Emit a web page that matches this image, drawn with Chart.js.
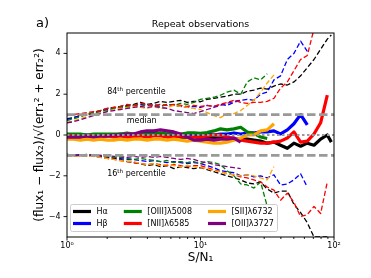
<!DOCTYPE html>
<html>
<head>
<meta charset="utf-8">
<script src="https://cdn.jsdelivr.net/npm/chart.js@4.4.1/dist/chart.umd.min.js"></script>
<style>
  html, body { margin: 0; padding: 0; background: #fff; }
  #wrap { width: 371px; height: 278px; }
</style>
</head>
<body>
<div id="wrap"><canvas id="repeatChart" width="371" height="278"></canvas></div>
<script>
// S/N bins (log spaced, 0.05 dex)
const snBins = [1.00, 1.12, 1.26, 1.41, 1.58, 1.78, 2.00, 2.24, 2.51, 2.82,
  3.16, 3.55, 3.98, 4.47, 5.01, 5.62, 6.31, 7.08, 7.94, 8.91,
  10.0, 11.2, 12.6, 14.1, 15.8, 17.8, 20.0, 22.4, 25.1, 28.2,
  31.6, 35.5, 39.8, 44.7, 50.1, 56.2, 63.1, 70.8, 79.4, 89.1, 95.5];

// Halpha
const haP84 = [0.8, 0.85, 0.95, 1.05, 1.1, 1.2, 1.3, 1.35, 1.4, 1.45, 1.5, 1.6, 1.5, 1.55, 1.65, 1.6, 1.65, 1.7, 1.6, 1.65,
  1.63, 1.75, 1.8, 1.85, 1.9, 2.0, 2.0, 2.15, 2.2, 2.3, 2.25, 2.4, 2.5, 2.45, 2.6, 2.9, 3.3, 3.7, 4.2, 4.7, 4.9];
const haMed = [-0.1, -0.1, -0.05, -0.05, -0.05, -0.05, -0.05, 0, -0.05, -0.05, -0.05, 0, -0.05, 0, 0, -0.05, -0.05, -0.1, -0.1, -0.1,
  -0.1, -0.1, -0.15, -0.15, -0.15, -0.2, -0.2, -0.2, -0.25, -0.3, -0.4, -0.35, -0.5, -0.65, -0.4, -0.55, -0.4, -0.5, -0.2, 0.0, -0.35];
const haP16 = [-0.95, -1.0, -1.0, -1.0, -1.05, -1.05, -1.1, -1.15, -1.2, -1.3, -1.35, -1.4, -1.5, -1.45, -1.55, -1.5, -1.65, -1.55, -1.6, -1.65,
  -1.6, -1.7, -1.8, -1.9, -2.0, -2.1, -2.2, -2.35, -2.4, -2.3, -2.65, -2.85, -2.75, -2.75, -3.4, -3.8, -4.3, -5.0, -5.0, -5.0];

// Hbeta
const hbP84 = [0.75, 0.85, 0.95, 1.0, 1.05, 1.15, 1.25, 1.3, 1.35, 1.4, 1.45, 1.5, 1.45, 1.5, 1.4, 1.5, 1.45, 1.4, 1.35, 1.4,
  1.35, 1.45, 1.4, 1.5, 1.45, 1.6, 1.7, 1.75, 1.7, 2.0, 2.1, 2.7, 2.9, 3.7, 4.0, 4.6, 4.1];
const hbMed = [-0.05, -0.05, 0, 0, -0.05, 0, 0, 0, 0.05, 0, 0.05, 0.05, 0.1, 0.1, 0.05, 0.05, 0, 0, 0.05, 0,
  0, 0.05, 0, 0.05, 0.05, 0.1, 0.05, 0.1, 0.1, 0.15, 0.15, 0.2, 0.05, 0.25, 0.55, 1.0, 0.5];
const hbP16 = [-1.0, -1.0, -0.95, -1.0, -1.0, -1.05, -1.05, -1.1, -1.15, -1.2, -1.2, -1.25, -1.3, -1.25, -1.3, -1.35, -1.3, -1.35, -1.4, -1.35,
  -1.4, -1.5, -1.6, -1.75, -1.8, -1.85, -2.0, -1.95, -2.05, -2.0, -2.1, -1.95, -2.45, -2.4, -2.2, -1.9, -2.55];

// [OIII] 5008
const o3P84 = [0.7, 0.8, 0.9, 1.0, 1.1, 1.15, 1.2, 1.3, 1.35, 1.4, 1.45, 1.4, 1.5, 1.45, 1.4, 1.5, 1.45, 1.55, 1.5, 1.6,
  1.75, 1.8, 1.85, 1.95, 2.1, 2.2, 2.0, 2.6, 2.8, 2.7, 3.0];
const o3Med = [0.05, 0.05, 0.05, 0, 0.05, 0.05, 0.05, 0.05, 0.05, 0.1, 0.05, 0.05, 0.05, 0.05, 0.1, 0.05, 0.1, 0.05, 0.1, 0.1,
  0.08, 0.12, 0.2, 0.3, 0.25, 0.3, 0.38, 0.15, 0.08, -0.1, -0.17];
const o3P16 = [-0.95, -1.0, -1.0, -0.95, -1.0, -1.0, -1.05, -1.1, -1.1, -1.15, -1.2, -1.15, -1.2, -1.25, -1.3, -1.25, -1.35, -1.3, -1.35, -1.3,
  -1.4, -1.3, -1.35, -1.45, -1.75, -2.0, -2.4, -2.45, -2.6, -2.3, -3.5];

// [NII] 6585
const n2P84 = [0.95, 1.0, 1.05, 1.1, 1.15, 1.2, 1.3, 1.35, 1.4, 1.5, 1.45, 1.55, 1.5, 1.45, 1.5, 1.45, 1.5, 1.45, 1.4, 1.45,
  1.4, 1.45, 1.4, 1.5, 1.6, 1.7, 1.6, 1.55, 1.6, 1.6, 1.65, 1.8, 2.3, 2.6, 3.15, 3.7, 3.9, 5.2];
const n2Med = [-0.05, -0.05, -0.1, -0.05, -0.05, -0.1, -0.05, -0.1, -0.05, -0.1, -0.1, -0.05, -0.1, -0.05, -0.05, -0.1, -0.1, -0.05, -0.1, -0.1,
  -0.1, -0.05, 0, 0, -0.1, -0.15, -0.25, -0.3, -0.35, -0.4, -0.4, -0.35, -0.3, -0.15, 0.15, -0.35, -0.3, 0.05, 0.6, 1.95];
const n2P16 = [-1.0, -1.05, -1.0, -1.05, -1.05, -1.1, -1.15, -1.2, -1.25, -1.3, -1.35, -1.4, -1.45, -1.4, -1.45, -1.5, -1.45, -1.5, -1.55, -1.5,
  -1.5, -1.6, -1.7, -1.8, -1.9, -1.95, -2.05, -2.1, -2.2, -2.3, -2.55, -2.7, -3.2, -2.85, -3.3, -4.0, -3.9, -3.5, -3.85, -2.3];

// [SII] 6732
const s2P84 = [0.6, 0.7, 0.8, 0.9, 1.0, 1.1, 1.15, 1.25, 1.3, 1.35, 1.4, 1.35, 1.3, 1.4, 1.3, 1.35, 1.45, 1.4, 1.35, 1.3,
  1.25, 1.1, 0.95, 0.85, 1.05, 1.05, 1.2, 1.45, 1.7, 2.1, 2.55, 2.95];
const s2Med = [-0.2, -0.2, -0.25, -0.2, -0.25, -0.2, -0.25, -0.25, -0.2, -0.25, -0.2, -0.2, -0.25, -0.2, -0.2, -0.25, -0.2, -0.25, -0.3, -0.25,
  -0.3, -0.35, -0.4, -0.4, -0.35, -0.25, -0.15, 0.0, 0.0, 0.2, 0.25, 0.55];
const s2P16 = [-1.05, -1.05, -1.0, -1.05, -1.05, -1.1, -1.15, -1.2, -1.25, -1.3, -1.3, -1.4, -1.45, -1.4, -1.5, -1.45, -1.5, -1.55, -1.5, -1.55,
  -1.6, -1.65, -1.75, -1.8, -1.9, -1.95, -2.0, -1.95, -2.0, -2.1, -2.2, -1.55];

// [OII] 3727
const o2P84 = [0.6, 0.65, 0.75, 0.85, 0.95, 1.05, 1.15, 1.2, 1.25, 1.3, 1.35, 1.4, 1.35, 1.4, 1.35, 1.3, 1.2, 1.15, 1.1, 1.05,
  1.15, 1.25, 1.35, 1.45, 1.55, 1.65, 1.7];
const o2Med = [-0.1, -0.1, -0.1, -0.05, -0.1, -0.05, -0.05, 0, 0, 0.05, 0.05, 0.15, 0.2, 0.2, 0.25, 0.2, 0.15, 0.05, -0.1, -0.25,
  -0.25, -0.2, -0.25, -0.2, -0.2, -0.15, -0.35];
const o2P16 = [-0.95, -1.0, -1.0, -0.95, -1.0, -1.0, -1.0, -1.05, -1.05, -1.1, -1.05, -1.1, -1.05, -1.1, -1.05, -1.1, -1.15, -1.2, -1.15, -1.2,
  -1.3, -1.35, -1.45, -1.5, -1.55, -1.6, -1.65];

const speciesNames = ['Hα', 'Hβ', '[OIII]λ5008', '[NII]λ6585', '[SII]λ6732', '[OII]λ3727'];
const speciesColors = ['#000000', '#0000ff', '#008000', '#ff0000', '#ffa500', '#800080'];
const p84 = [haP84, hbP84, o3P84, n2P84, s2P84, o2P84];
const medians = [haMed, hbMed, o3Med, n2Med, s2Med, o2Med];
const p16 = [haP16, hbP16, o3P16, n2P16, s2P16, o2P16];

const xLimits = [1, 100];
const yLimits = [-5, 5];
const xMajorTicks = [1, 10, 100];
const xTickLabels = ['10⁰', '10¹', '10²'];
const xMinorTicks = [2, 3, 4, 5, 6, 7, 8, 9, 20, 30, 40, 50, 60, 70, 80, 90];
const yTicks = [-4, -2, 0, 2, 4];
const yTickLabels = ['−4', '−2', '0', '2', '4'];
const dashedLevels = [1, -1];
const dottedLevels = [0];

const notes = [
  { x: 2.0, y: 2.0, main: '84', sup: 'th', rest: ' percentile' },
  { x: 2.8, y: 0.6, main: 'median', sup: '', rest: '' },
  { x: 2.0, y: -2.0, main: '16', sup: 'th', rest: ' percentile' }
];

const FONT = '"DejaVu Sans", sans-serif';
Chart.defaults.font.family = FONT;

function toPoints(vals) {
  return vals.map((v, i) => ({ x: snBins[i], y: v }));
}

const lineBase = { pointRadius: 0, fill: false, tension: 0, clip: 0, borderJoinStyle: 'round' };
const datasets = [];
speciesNames.forEach((name, i) => {
  const c = speciesColors[i];
  datasets.push({ ...lineBase, label: name + ' 84th', data: toPoints(p84[i]), borderColor: c, borderWidth: 1.3, borderDash: [5, 2.5] });
  datasets.push({ ...lineBase, label: name, data: toPoints(medians[i]), borderColor: c, borderWidth: 3.2 });
  datasets.push({ ...lineBase, label: name + ' 16th', data: toPoints(p16[i]), borderColor: c, borderWidth: 1.3, borderDash: [5, 2.5] });
});
dashedLevels.forEach(lv => {
  datasets.push({ ...lineBase, label: 'ref', data: xLimits.map(x => ({ x, y: lv })), borderColor: '#999999', borderWidth: 2.7, borderDash: [8.5, 3.5] });
});
dottedLevels.forEach(lv => {
  datasets.push({ ...lineBase, label: 'ref', data: xLimits.map(x => ({ x, y: lv })), borderColor: '#999999', borderWidth: 2, borderDash: [2.5, 2.5] });
});
// Chart.js tekent de eerste dataset bovenop
datasets.reverse();

const decorPlugin = {
  id: 'decor',
  afterDatasetsDraw(chart) {
    const { ctx, chartArea: a, scales: { x, y } } = chart;
    ctx.save();
    ctx.fillStyle = '#000';
    ctx.textBaseline = 'alphabetic';
    ctx.textAlign = 'left';
    notes.forEach(n => {
      let px = x.getPixelForValue(n.x);
      const py = y.getPixelForValue(n.y);
      ctx.font = '8px ' + FONT;
      ctx.fillText(n.main, px, py);
      px += ctx.measureText(n.main).width;
      if (n.sup) {
        ctx.font = '5.6px ' + FONT;
        ctx.fillText(n.sup, px, py - 3.3);
        px += ctx.measureText(n.sup).width;
        ctx.font = '8px ' + FONT;
      }
      if (n.rest) ctx.fillText(n.rest, px, py);
    });

    // legenda (3 kolommen, kolom voor kolom gevuld)
    const lx = a.left + 3, ly = a.bottom - 33, lw = 207, lh = 27;
    ctx.beginPath();
    ctx.roundRect(lx + 0.5, ly + 0.5, lw, lh, 2);
    ctx.fillStyle = 'rgba(255,255,255,0.8)';
    ctx.fill();
    ctx.strokeStyle = '#cccccc';
    ctx.lineWidth = 1;
    ctx.stroke();
    ctx.font = '8px ' + FONT;
    ctx.textBaseline = 'middle';
    let colX = lx + 3;
    for (let col = 0; col < 3; col++) {
      let maxW = 0;
      for (let row = 0; row < 2; row++) {
        const i = col * 2 + row;
        const ry = ly + 7.5 + row * 12;
        ctx.strokeStyle = speciesColors[i];
        ctx.lineWidth = 3.2;
        ctx.beginPath();
        ctx.moveTo(colX, ry);
        ctx.lineTo(colX + 18, ry);
        ctx.stroke();
        ctx.fillStyle = '#000';
        ctx.fillText(speciesNames[i], colX + 23.5, ry + 0.5);
        maxW = Math.max(maxW, ctx.measureText(speciesNames[i]).width);
      }
      colX += 23.5 + maxW + 16;
    }
    ctx.restore();
  },
  afterDraw(chart) {
    const { ctx, chartArea: a, scales: { x, y } } = chart;
    ctx.save();
    ctx.strokeStyle = '#000';
    ctx.lineWidth = 1;
    ctx.strokeRect(a.left, a.top, a.right - a.left, a.bottom - a.top);
    ctx.lineWidth = 0.9;
    ctx.beginPath();
    xMajorTicks.forEach(v => {
      const px = x.getPixelForValue(v);
      ctx.moveTo(px, a.bottom); ctx.lineTo(px, a.bottom + 3.5);
    });
    xMinorTicks.forEach(v => {
      const px = x.getPixelForValue(v);
      ctx.moveTo(px, a.bottom); ctx.lineTo(px, a.bottom + 2);
    });
    yTicks.forEach(v => {
      const py = y.getPixelForValue(v);
      ctx.moveTo(a.left, py); ctx.lineTo(a.left - 3.5, py);
    });
    ctx.stroke();

    ctx.fillStyle = '#000';
    ctx.textBaseline = 'alphabetic';
    ctx.textAlign = 'center';
    ctx.font = '9.5px ' + FONT;
    ctx.fillText('Repeat observations', (a.left + a.right) / 2, 27);
    ctx.textAlign = 'left';
    ctx.font = '13px ' + FONT;
    ctx.fillText('a)', 36, 27);
    ctx.restore();
  }
};

new Chart(document.getElementById('repeatChart'), {
  type: 'line',
  data: { datasets },
  plugins: [decorPlugin],
  options: {
    responsive: false,
    animation: false,
    devicePixelRatio: 1,
    layout: { padding: { left: 0, top: 33, right: 37, bottom: 0 } },
    plugins: { legend: { display: false }, tooltip: { enabled: false } },
    scales: {
      x: {
        type: 'logarithmic',
        min: xLimits[0],
        max: xLimits[1],
        afterBuildTicks: s => { s.ticks = xMajorTicks.map(v => ({ value: v })); },
        afterFit: s => { s.height = 41; },
        grid: { display: false, drawTicks: false },
        border: { display: false },
        ticks: {
          autoSkip: false, maxRotation: 0, padding: 4, color: '#000',
          font: { size: 8 },
          callback: (v, i) => xTickLabels[i]
        },
        title: { display: true, text: 'S/N₁', color: '#000', font: { size: 12 }, padding: { top: 0, bottom: 13 } }
      },
      y: {
        min: yLimits[0],
        max: yLimits[1],
        afterBuildTicks: s => { s.ticks = yTicks.map(v => ({ value: v })); },
        afterFit: s => { s.width = 67; },
        grid: { display: false, drawTicks: false },
        border: { display: false },
        ticks: {
          padding: 6.5, color: '#000',
          font: { size: 8 },
          callback: (v, i) => yTickLabels[i]
        },
        title: {
          display: true,
          text: '(flux₁ − flux₂)/√(err₁² + err₂²)',
          color: '#000', font: { size: 12 }, padding: { top: 33, bottom: 0 }
        }
      }
    }
  }
});
</script>
</body>
</html>
